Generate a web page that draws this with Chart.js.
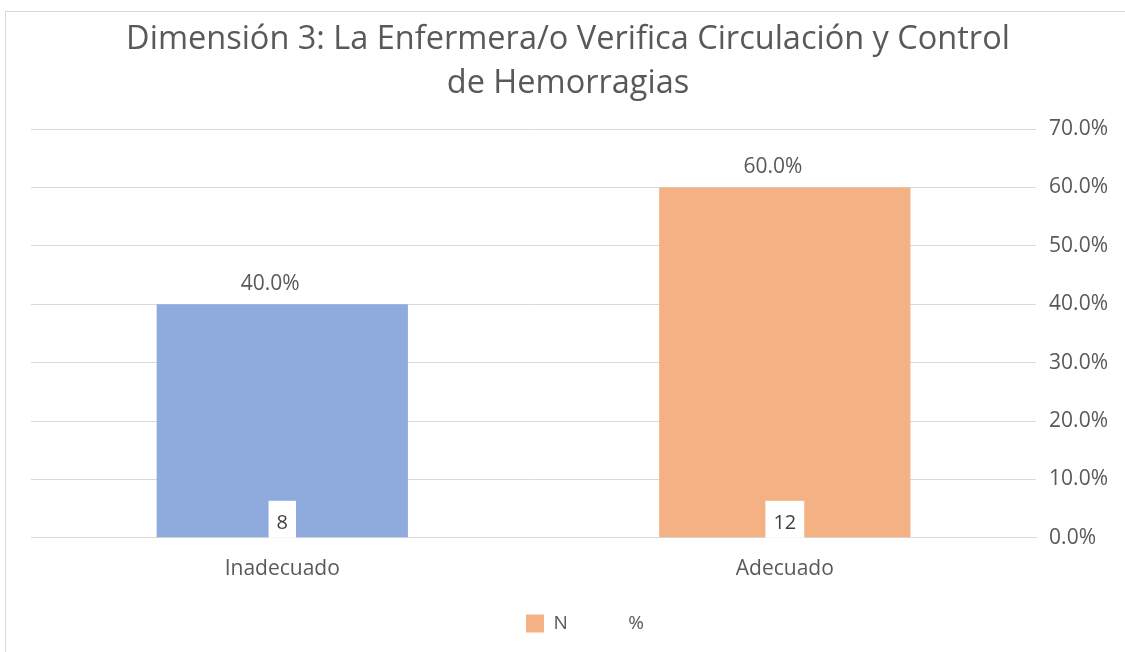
<!DOCTYPE html>
<html>
<head>
<meta charset="utf-8">
<script src="https://cdn.jsdelivr.net/npm/chart.js@4"></script>
<style>
  html, body { margin: 0; padding: 0; background: #fff; }
  #wrap { position: absolute; left: 0; top: 0; width: 1125px; height: 652px; }
  #frame { position: absolute; left: 5px; top: 11px; width: 1125px; height: 652px;
           border-left: 1px solid #d9d9d9; border-top: 1px solid #d9d9d9; }
</style>
</head>
<body>
<div id="wrap">
  <div id="frame"></div>
  <canvas id="chart" width="1125" height="652"></canvas>
</div>
<script>
const categories = ["Inadecuado", "Adecuado"];
const nValues = [8, 12];
const pctValues = [40, 60];
const yTicks = [0, 10, 20, 30, 40, 50, 60, 70];
const titleLines = ["Dimensión 3: La Enfermera/o Verifica Circulación y Control", "de Hemorragias"];

const barColors = ["#8faadc", "#f4b183"];
const textColor = "#595959";
const fontFamily = "'Open Sans', sans-serif";

// percent labels above bars, N labels in white boxes at the bottom
const labelsPlugin = {
    id: "barLabels",
    afterLayout(chart) {
        // nudge legend and title, like the original
        chart.legend.left += 9;
        chart.legend.right += 9;
        chart.titleBlock.left -= 8;
        chart.titleBlock.right -= 8;
    },
    afterDatasetsDraw(chart) {
        const c = chart.ctx;
        const pctMeta = chart.getDatasetMeta(1);
        const yScale = chart.scales.y;
        c.save();
        c.textAlign = "center";
        c.textBaseline = "middle";
        pctMeta.data.forEach((bar, i) => {
            c.font = "21px " + fontFamily;
            c.fillStyle = textColor;
            c.fillText(pctValues[i].toFixed(1) + "%", bar.x - 12, bar.y - 20);

            const txt = String(nValues[i]);
            c.font = "20px " + fontFamily;
            const w = c.measureText(txt).width + 16;
            const bottom = yScale.getPixelForValue(0);
            c.fillStyle = "#fff";
            c.fillRect(bar.x - w / 2, bottom - 37, w, 37);
            c.fillStyle = "#404040";
            c.fillText(txt, bar.x, bottom - 15);
        });
        c.restore();
    }
};

new Chart(document.getElementById("chart"), {
    type: "bar",
    data: {
        labels: categories,
        datasets: [
            {
                label: "N",
                data: nValues,
                yAxisID: "n",
                backgroundColor: "rgba(0,0,0,0)",
                grouped: false,
                barPercentage: 0.5,
                categoryPercentage: 1,
            },
            {
                label: "%",
                data: pctValues,
                yAxisID: "y",
                backgroundColor: barColors,
                grouped: false,
                barPercentage: 0.5,
                categoryPercentage: 1,
            },
        ],
    },
    options: {
        responsive: false,
        animation: false,
        layout: {
            padding: { left: 31, right: 4, top: 18, bottom: 9 },
        },
        plugins: {
            title: {
                display: true,
                text: titleLines,
                color: textColor,
                font: { size: 32.5, family: fontFamily, weight: "normal", lineHeight: 1.354 },
                padding: { top: 0, bottom: 23 },
            },
            legend: {
                position: "bottom",
                labels: {
                    color: textColor,
                    font: { size: 19, family: fontFamily },
                    boxWidth: 18,
                    boxHeight: 18,
                    padding: 33,
                    generateLabels() {
                        return [
                            { text: "N", fillStyle: barColors[1], strokeStyle: "rgba(0,0,0,0)", lineWidth: 0, fontColor: textColor },
                            { text: "%", fillStyle: "rgba(0,0,0,0)", strokeStyle: "rgba(0,0,0,0)", lineWidth: 0, fontColor: textColor },
                        ];
                    },
                },
            },
            tooltip: { enabled: false },
        },
        scales: {
            x: {
                grid: { display: false },
                border: { color: "#d9d9d9" },
                ticks: {
                    color: textColor,
                    font: { size: 21, family: fontFamily },
                    padding: 11,
                },
                afterFit(axis) {
                    axis.height -= 12;
                },
            },
            y: {
                position: "right",
                min: 0,
                max: 70,
                afterBuildTicks(axis) {
                    axis.ticks = yTicks.map((v) => ({ value: v }));
                },
                grid: { color: "#d9d9d9", drawTicks: false },
                border: { display: false },
                ticks: {
                    color: textColor,
                    font: { size: 21, family: fontFamily },
                    padding: 13,
                    callback: (v) => v.toFixed(1) + "%",
                },
            },
            n: {
                display: false,
                min: 0,
                max: 1000,
            },
        },
    },
    plugins: [labelsPlugin],
});
</script>
</body>
</html>
